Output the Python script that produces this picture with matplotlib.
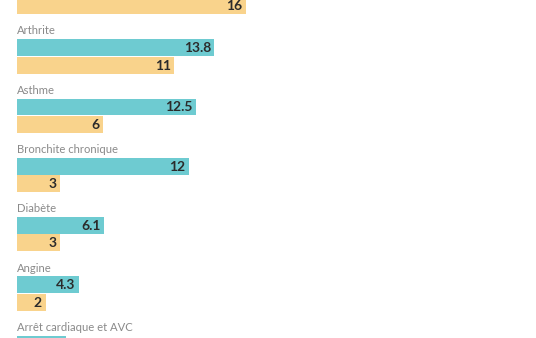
import numpy as np
import matplotlib.pyplot as plt

# ------------- data -------------
categories = ["", "Arthrite", "Asthme", "Bronchite chronique", "Diabète", "Angine",
              "Arrêt cardiaque et AVC"]
teal_vals = [np.nan, 13.8, 12.5, 12, 6.1, 4.3, 3.4]
yellow_vals = [16, 11, 6, 3, 3, 2, np.nan]

teal = "#6ecbd1"
yellow = "#f9d38c"
value_color = "#2b2b2b"
label_color = "#8a8a8a"

plt.rcParams["font.family"] = ["Lato", "DejaVu Sans"]

W, H = 536, 338
fig = plt.figure(figsize=(W / 100, H / 100), dpi=100)
ax = fig.add_axes([0, 0, 1, 1])

px_per_unit = 14.31
x0 = 17
ax.set_xlim(-x0 / px_per_unit, (W - x0) / px_per_unit)
ax.set_ylim(H, 0)  # y in pixels, downward
ax.axis("off")

pitch = 59.26
first_top = 39.3 - pitch  # teal top of the (hidden) first group
bar_h = 16.8
gap = 0.6
pad = 3.6 / px_per_unit


def fmt(v):
    return f"{v:g}"


def value_label(x, y, v):
    # only label values whose text sits inside the visible window
    if y + 6 < H:
        ax.text(x - pad, y + 0.5, fmt(v), ha="right", va="center",
                fontsize=10, fontweight="bold", color=value_color)


for i, cat in enumerate(categories):
    top = first_top + i * pitch
    ty = top + bar_h / 2
    yy = top + bar_h + gap + bar_h / 2
    tv, yv = teal_vals[i], yellow_vals[i]
    if not np.isnan(tv):
        ax.barh(ty, tv, height=bar_h, color=teal, left=0)
        value_label(tv, ty, tv)
    if not np.isnan(yv):
        ax.barh(yy, yv, height=bar_h, color=yellow, left=0)
        value_label(yv, yy, yv)
    if cat:
        ax.text(0, top - 8.3, cat, ha="left", va="center",
                fontsize=8.1, color=label_color)

fig.savefig("out.png", dpi=100)
